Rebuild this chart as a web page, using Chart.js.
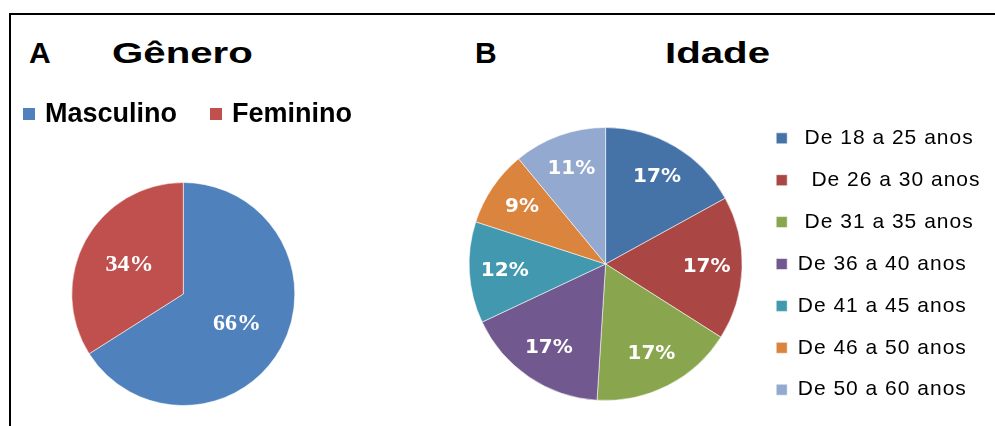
<!DOCTYPE html>
<html>
<head>
<meta charset="utf-8">
<script src="https://cdn.jsdelivr.net/npm/chart.js@4/dist/chart.umd.min.js"></script>
<style>
  html, body { margin: 0; padding: 0; background: #fff; }
  body { width: 995px; height: 426px; position: relative; overflow: hidden;
         font-family: "Liberation Sans", Arial, sans-serif; }
  .frame { position: absolute; left: 9px; top: 13px; right: -5px; bottom: -5px;
           border-top: 2px solid #000; border-left: 2px solid #000; }
  .ttl { position: absolute; font-weight: bold; font-size: 30px; line-height: 30px;
         color: #000; white-space: nowrap; }
  .wide { transform: scaleX(1.34); transform-origin: 0 0; }
  #boxA { position: absolute; left: 11px; top: 16px; width: 420px; height: 410px; }
  #boxB { position: absolute; left: 440px; top: 16px; width: 555px; height: 410px; }
</style>
</head>
<body>
<div class="frame"></div>
<div class="ttl" style="left:29px; top:38px;">A</div>
<div class="ttl wide" style="left:112px; top:38px;">Gênero</div>
<div class="ttl" style="left:475px; top:38px;">B</div>
<div class="ttl wide" style="left:665px; top:38px;">Idade</div>
<div id="boxA"><canvas id="genero" width="420" height="410"></canvas></div>
<div id="boxB"><canvas id="idade" width="555" height="410"></canvas></div>

<script>
// Gender split
const genderLabels = ['Masculino', 'Feminino'];
const genderValues = [66, 34];
const genderColors = ['#4F81BD', '#C0504D'];

// Age groups
const ageLabels = [' De 18 a 25 anos', '  De 26 a 30 anos', ' De 31 a 35 anos',
                   'De 36 a 40 anos', 'De 41 a 45 anos', 'De 46 a 50 anos', 'De 50 a 60 anos'];
const ageValues = [17, 17, 17, 17, 12, 9, 11];
const ageColors = ['#4572A7', '#AA4643', '#89A54E', '#71588F', '#4198AF', '#DB843D', '#93A9CF'];

// Writes "<value>%" inside each slice, along the slice bisector
const sliceLabels = {
  id: 'sliceLabels',
  afterDatasetsDraw(chart, args, opts) {
    const ctx = chart.ctx;
    const meta = chart.getDatasetMeta(0);
    const values = chart.data.datasets[0].data;
    ctx.save();
    ctx.letterSpacing = '0px';
    ctx.font = opts.font;
    ctx.fillStyle = opts.color;
    ctx.textAlign = 'center';
    ctx.textBaseline = 'middle';
    meta.data.forEach((arc, i) => {
      const p = arc.getProps(['x', 'y', 'startAngle', 'endAngle', 'outerRadius'], true);
      const mid = (p.startAngle + p.endAngle) / 2;
      const r = p.outerRadius * opts.distance;
      ctx.fillText(values[i] + '%', p.x + Math.cos(mid) * r, p.y + Math.sin(mid) * r);
    });
    ctx.restore();
  }
};

// Slightly spaced-out lettering for the legend text
const spacedText = {
  id: 'spacedText',
  beforeLayout(chart, args, opts) { chart.ctx.letterSpacing = opts.spacing; },
  beforeDraw(chart, args, opts) { chart.ctx.letterSpacing = opts.spacing; }
};

// Single-row legend drawn above the gender pie
const rowLegend = {
  id: 'rowLegend',
  afterDraw(chart, args, o) {
    const ctx = chart.ctx;
    const ds = chart.data.datasets[0];
    ctx.save();
    ctx.font = o.font;
    ctx.textAlign = 'left';
    ctx.textBaseline = 'alphabetic';
    let x = o.x;
    chart.data.labels.forEach((label, i) => {
      ctx.fillStyle = ds.backgroundColor[i];
      ctx.fillRect(x, o.boxTop, o.box, o.box);
      const tx = x + o.box + o.gap;
      ctx.fillStyle = o.color;
      ctx.fillText(label, tx, o.baseline);
      x = tx + ctx.measureText(label).width + o.spacing;
    });
    ctx.restore();
  }
};

new Chart(document.getElementById('genero'), {
  type: 'pie',
  data: {
    labels: genderLabels,
    datasets: [{
      data: genderValues,
      backgroundColor: genderColors,
      borderColor: 'rgba(255,255,255,0.55)',
      borderWidth: 1,
      radius: 111.5
    }]
  },
  plugins: [sliceLabels, rowLegend],
  options: {
    responsive: false,
    animation: false,
    events: [],
    layout: { padding: { left: 22.3, right: 97.7, top: 148, bottom: 2 } },
    plugins: {
      legend: { display: false },
      tooltip: { enabled: false },
      sliceLabels: { font: 'bold 24px "Liberation Serif", serif', color: '#fff', distance: 0.55 },
      rowLegend: { font: 'bold 27px "Liberation Sans", Arial, sans-serif', color: '#000',
                   x: 12, boxTop: 92, box: 12, gap: 10, baseline: 105.5, spacing: 33 }
    }
  }
});

new Chart(document.getElementById('idade'), {
  type: 'pie',
  data: {
    labels: ageLabels,
    datasets: [{
      data: ageValues,
      backgroundColor: ageColors,
      borderColor: 'rgba(255,255,255,0.55)',
      borderWidth: 1,
      radius: 136.5
    }]
  },
  plugins: [spacedText, sliceLabels],
  options: {
    responsive: false,
    animation: false,
    events: [],
    layout: { padding: { left: 15.9, right: 4.5, top: 88.5, bottom: 2.5 } },
    plugins: {
      spacedText: { spacing: '1px' },
      legend: {
        position: 'right',
        align: 'center',
        labels: {
          font: { family: '"Liberation Sans", Arial, sans-serif', size: 21 },
          color: '#000',
          boxWidth: 11,
          boxHeight: 11,
          padding: 20.9
        }
      },
      tooltip: { enabled: false },
      sliceLabels: { font: 'bold 20px "DejaVu Sans", sans-serif', color: '#fff', distance: 0.74 }
    }
  }
});
</script>
</body>
</html>
